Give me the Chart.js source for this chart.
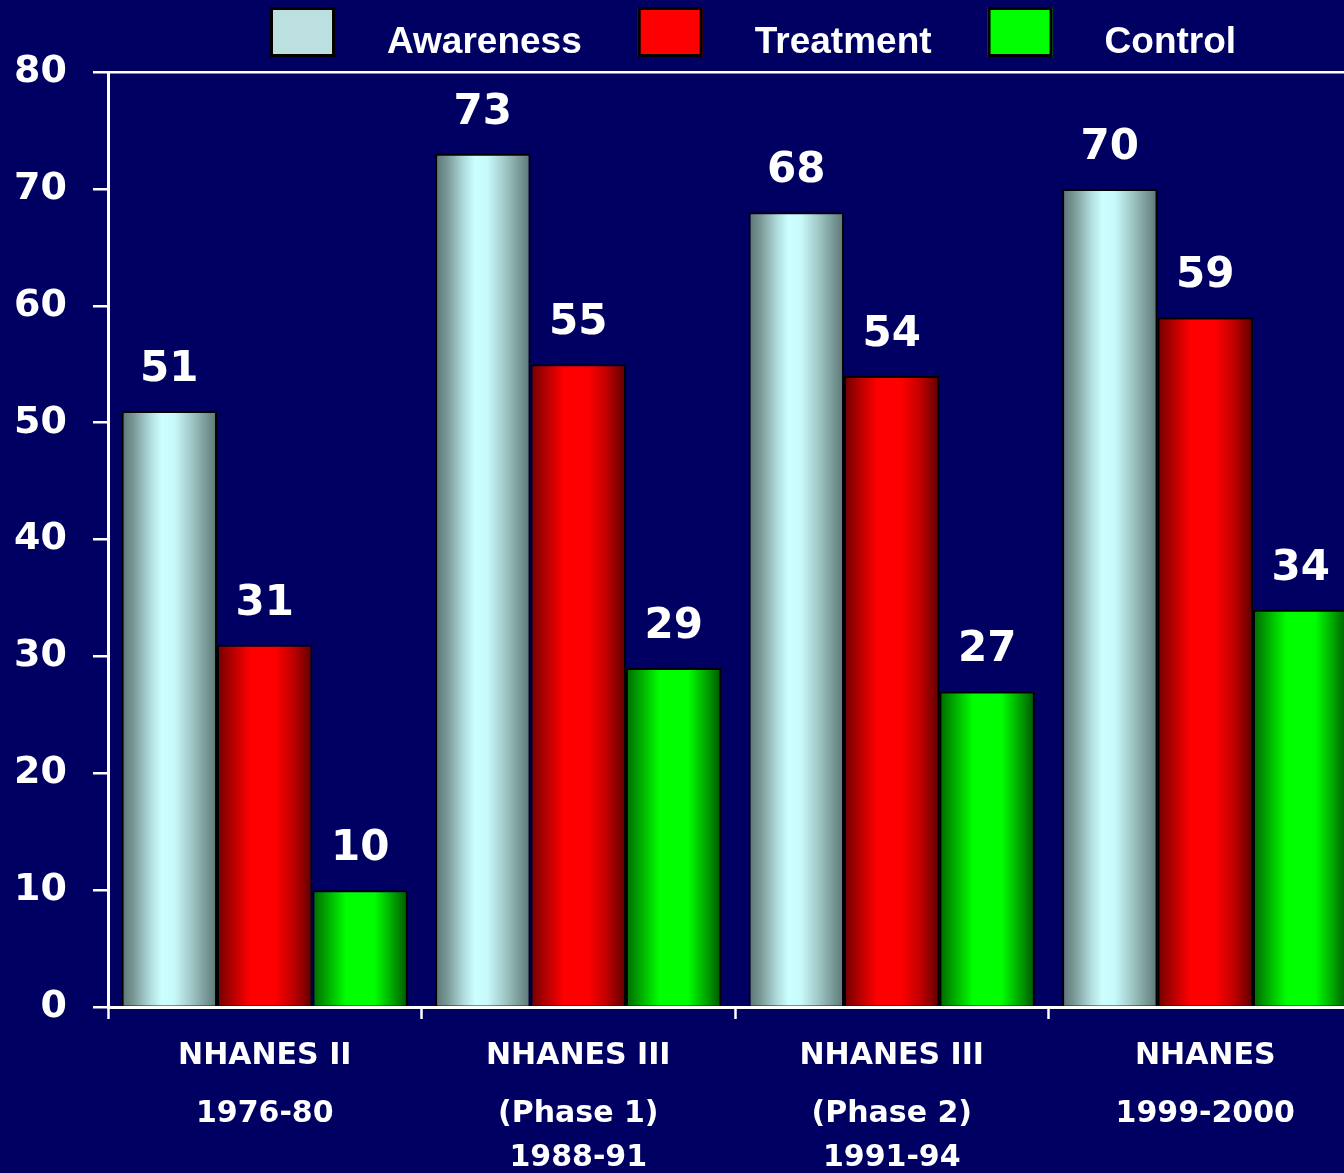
<!DOCTYPE html>
<html>
<head>
<meta charset="utf-8">
<script src="https://cdn.jsdelivr.net/npm/chart.js@4/dist/chart.umd.min.js"></script>
<style>
  html, body { margin: 0; padding: 0; background: #000063; overflow: hidden; }
</style>
</head>
<body>
<canvas id="nhanes" width="1362" height="1190"></canvas>
<script>
// categories, one entry per survey (each line of the axis label)
const categories = [
  ["NHANES II", "1976-80"],
  ["NHANES III", "(Phase 1)", "1988-91"],
  ["NHANES III", "(Phase 2)", "1991-94"],
  ["NHANES", "1999-2000"],
];
const seriesNames = ["Awareness", "Treatment", "Control"];
const awareness = [51, 73, 68, 70];
const treatment = [31, 55, 54, 59];
const control = [10, 29, 27, 34];
const yTicks = [0, 10, 20, 30, 40, 50, 60, 70, 80];

// styling
const legendFill = ["#bce0e0", "#ff0000", "#00ff00"];
const shadeStops = [
  [[0, "#5a7674"], [0.12, "#789694"], [0.3, "#b0dcdc"], [0.42, "#ccffff"], [0.55, "#c8fafa"], [0.75, "#9cc2c0"], [1, "#5a7674"]],
  [[0, "#700000"], [0.15, "#b00000"], [0.35, "#ff0000"], [0.6, "#ff0000"], [0.8, "#c00000"], [1, "#5c0000"]],
  [[0, "#006800"], [0.15, "#00a800"], [0.35, "#00ff00"], [0.65, "#00ff00"], [0.85, "#00a000"], [1, "#005400"]],
];
const white = "#ffffff";

// horizontal cylinder-like shading on every bar
const shadeBars = {
  id: "shadeBars",
  beforeDatasetsDraw(chart) {
    const ctx = chart.ctx;
    chart.data.datasets.forEach((ds, i) => {
      chart.getDatasetMeta(i).data.forEach((bar) => {
        const { x, width } = bar.getProps(["x", "width"], true);
        const g = ctx.createLinearGradient(x - width / 2, 0, x + width / 2, 0);
        shadeStops[i].forEach(([at, c]) => g.addColorStop(at, c));
        bar.options = Object.assign({}, bar.options, { backgroundColor: g });
      });
    });
  },
};

// value printed above each bar
const valueLabels = {
  id: "valueLabels",
  afterDatasetsDraw(chart) {
    const ctx = chart.ctx;
    ctx.save();
    ctx.font = "bold 42px 'DejaVu Sans'";
    ctx.fillStyle = white;
    ctx.textAlign = "center";
    ctx.textBaseline = "alphabetic";
    chart.data.datasets.forEach((ds, i) => {
      chart.getDatasetMeta(i).data.forEach((bar, j) => {
        ctx.fillText(String(ds.data[j]), bar.x, bar.y - 30);
      });
    });
    ctx.restore();
  },
};

// legend row across the top
const topLegend = {
  id: "topLegend",
  afterDraw(chart) {
    const ctx = chart.ctx;
    ctx.save();
    ctx.font = "bold 37px 'Liberation Sans'";
    ctx.textBaseline = "alphabetic";
    let x = chart.chartArea.left + 162;
    chart.data.datasets.forEach((ds, i) => {
      ctx.fillStyle = legendFill[i];
      ctx.fillRect(x, 7, 65, 50);
      ctx.lineWidth = 3;
      ctx.strokeStyle = "#000";
      ctx.strokeRect(x + 1.5, 8.5, 62, 47);
      x += 65 + 52;
      ctx.fillStyle = white;
      ctx.fillText(ds.label, x, 53);
      x += ctx.measureText(ds.label).width + 56;
    });
    ctx.restore();
  },
};

const barStyle = { borderColor: "#000", borderWidth: 2 };

new Chart(document.getElementById("nhanes"), {
  type: "bar",
  data: {
    labels: categories,
    datasets: [
      { label: seriesNames[0], data: awareness, backgroundColor: legendFill[0], ...barStyle },
      { label: seriesNames[1], data: treatment, backgroundColor: legendFill[1], ...barStyle },
      { label: seriesNames[2], data: control, backgroundColor: legendFill[2], ...barStyle },
    ],
  },
  options: {
    responsive: false,
    animation: false,
    events: [],
    layout: { padding: { top: 72, left: 0, right: 0, bottom: 0 } },
    datasets: { bar: { categoryPercentage: 0.913, barPercentage: 1 } },
    plugins: {
      legend: { display: false },
      tooltip: { enabled: false },
    },
    scales: {
      x: {
        grid: { offset: true, drawOnChartArea: false, tickColor: white, tickWidth: 2.5, tickLength: 12 },
        border: { color: white, width: 3 },
        ticks: {
          color: white,
          padding: 30,
          maxRotation: 0,
          autoSkip: false,
          font: { family: "'DejaVu Sans'", weight: "bold", size: 30, lineHeight: "14.5px" },
          callback: function (value) {
            const lines = categories[value];
            const out = [lines[0], "", "", "", lines[1]];
            if (lines[2]) out.push("", "", lines[2]);
            return out;
          },
        },
        afterFit: (scale) => { scale.height = 183; },
      },
      y: {
        min: yTicks[0],
        max: yTicks[yTicks.length - 1],
        ticks: {
          stepSize: yTicks[1] - yTicks[0],
          color: white,
          padding: 26,
          font: { family: "'DejaVu Sans'", weight: "bold", size: 38 },
        },
        grid: {
          color: (c) => (c.tick && c.tick.value === yTicks[yTicks.length - 1] ? white : "rgba(0,0,0,0)"),
          lineWidth: 2.5,
          tickColor: white,
          tickWidth: 2.5,
          tickLength: 15,
        },
        border: { color: white, width: 3 },
        afterFit: (scale) => { scale.width = 108; },
      },
    },
  },
  plugins: [shadeBars, valueLabels, topLegend],
});
</script>
</body>
</html>
